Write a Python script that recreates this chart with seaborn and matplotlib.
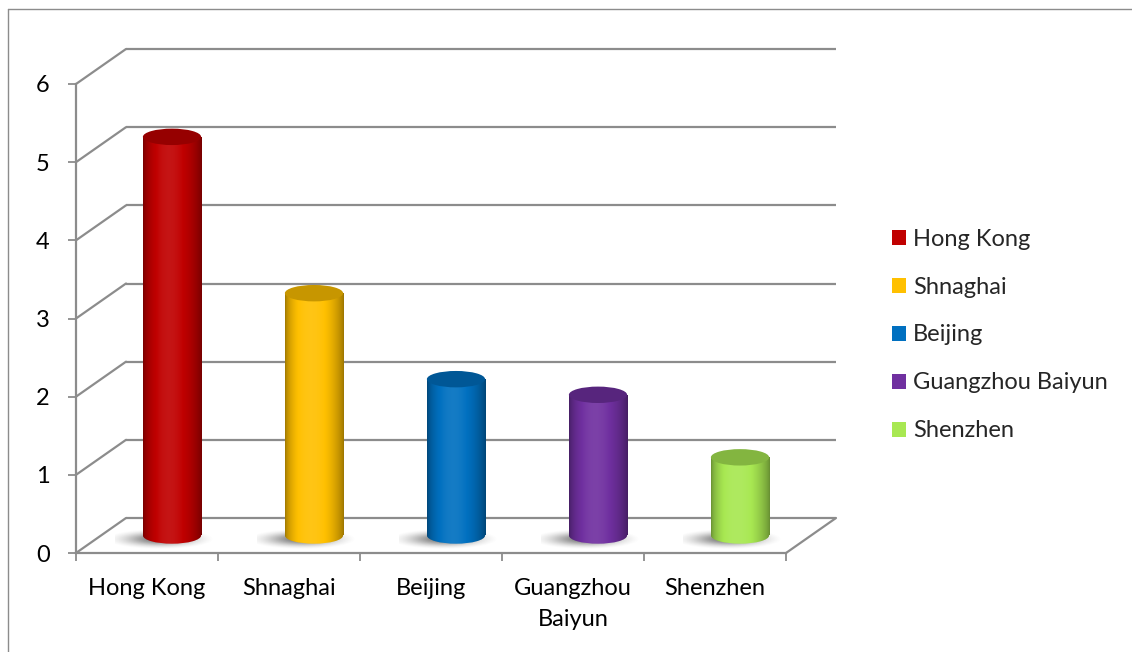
import numpy as np
import pandas as pd
import matplotlib
matplotlib.use("Agg")
import matplotlib.pyplot as plt
import matplotlib.transforms as mtransforms
from matplotlib.patches import Ellipse, Patch
from matplotlib.lines import Line2D
import seaborn as sns

# ---- data -------------------------------------------------------------
cities = ["Hong Kong", "Shnaghai", "Beijing", "Guangzhou Baiyun", "Shenzhen"]
tick_labels = ["Hong Kong", "Shnaghai", "Beijing", "Guangzhou\nBaiyun", "Shenzhen"]
values = [5.1, 3.1, 2.0, 1.8, 1.0]
colors = ["#C00000", "#FFC000", "#0070C0", "#7030A0", "#A8E852"]
y_ticks = [0, 1, 2, 3, 4, 5, 6]

# ---- style ------------------------------------------------------------
sns.set_theme(style="white")
plt.rcParams["font.family"] = ["Lato", "DejaVu Sans"]

DPI = 100
W, H = 1132, 652
GRID = "#8c8c8c"
FS = 17

fig = plt.figure(figsize=(W / DPI, H / DPI), dpi=DPI)
fig.patch.set_facecolor("white")
ax = fig.add_axes([76 / W, 99 / H, 710 / W, 469 / H])
ax.set_facecolor("none")

n = len(cities)

# depth of the pseudo-3D box (pixels right / up)
DX, DY = 50, 35
back = ax.transData + mtransforms.ScaledTranslation(DX / DPI, DY / DPI, fig.dpi_scale_trans)
mid = ax.transData + mtransforms.ScaledTranslation(DX / 2 / DPI, DY / 2 / DPI, fig.dpi_scale_trans)

# back wall gridlines and side-wall diagonals
for v in y_ticks:
    ax.plot([-0.5, n - 0.5], [v, v], color=GRID, lw=1.6, transform=back,
            clip_on=False, zorder=0.5, solid_capstyle="butt")
    ax.annotate("", xy=(-0.5, v), xytext=(DX, DY), textcoords="offset pixels",
                arrowprops=dict(arrowstyle="-", color=GRID, lw=1.6,
                                shrinkA=0, shrinkB=0),
                annotation_clip=False, zorder=0.5)
# right edge of the floor
ax.annotate("", xy=(n - 0.5, 0), xytext=(DX, DY), textcoords="offset pixels",
            arrowprops=dict(arrowstyle="-", color=GRID, lw=1.6, shrinkA=0, shrinkB=0),
            annotation_clip=False, zorder=0.5)

# ---- bars -------------------------------------------------------------
df = pd.DataFrame({"city": cities, "value": values})
sns.barplot(data=df, x="city", y="value", hue="city", palette=colors,
            saturation=1, width=0.41, legend=False, ax=ax, zorder=2)


def shade(rgb, f):
    rgb = np.asarray(rgb, dtype=float)
    if f <= 1:
        return rgb * f
    return rgb + (1 - rgb) * min(f - 1, 1)


t = np.linspace(0, 1, 256)
profile = 0.60 + 0.48 * np.sin(np.pi * t ** 0.85) ** 0.7

ELL_H = 0.21  # ellipse height in data units

# soft floor shadow
yy, xx = np.mgrid[-1:1:80j, -1:1:160j]
shadow_alpha = np.exp(-((xx + 0.1) ** 2) * 2.2 - (yy ** 2) * 3.0)
shadow_alpha = np.clip((shadow_alpha - 0.08) / 0.92, 0, 1) * 0.9
shadow = np.zeros((80, 160, 4))
shadow[..., :3] = 0.40
shadow[..., 3] = shadow_alpha

for patch, col in zip(ax.patches, colors):
    base = np.array(matplotlib.colors.to_rgb(col))
    x0, w, h = patch.get_x(), patch.get_width(), patch.get_height()
    xc = x0 + w / 2
    patch.set_transform(mid)
    patch.set_linewidth(0)

    ax.imshow(shadow, extent=(xc - 0.40, xc + 0.30, -0.18, 0.10), transform=mid,
              aspect="auto", interpolation="bilinear", zorder=1.5)

    grad = np.array([[shade(base, f) for f in profile]])
    body = ax.imshow(grad, extent=(x0, x0 + w, 0, h), transform=mid,
                     aspect="auto", interpolation="bilinear", zorder=2.5)
    body.set_clip_path(patch)

    bottom = Ellipse((xc, 0), w, ELL_H, transform=mid, facecolor="none",
                     edgecolor="none")
    ax.add_patch(bottom)
    low = ax.imshow(grad, extent=(x0, x0 + w, -ELL_H / 2, 0.01), transform=mid,
                    aspect="auto", interpolation="bilinear", zorder=2.4)
    low.set_clip_path(bottom)

    top = Ellipse((xc, h), w, ELL_H, angle=0, transform=mid,
                  facecolor=shade(base, 0.78), edgecolor="none", zorder=3)
    ax.add_patch(top)

# ---- axes -------------------------------------------------------------
ax.set_xlim(-0.5, n - 0.5)
ax.set_ylim(0, 6)
ax.set_xlabel("")
ax.set_ylabel("")
ax.set_xticks(range(n), labels=tick_labels)
ax.set_xticks(np.arange(n + 1) - 0.5, minor=True)
ax.set_yticks(y_ticks)
ax.tick_params(axis="x", which="major", bottom=False, length=0, pad=18,
               labelsize=FS, labelcolor="black")
ax.tick_params(axis="x", which="minor", bottom=True, length=6, width=1.3,
               color=GRID, direction="out")
ax.tick_params(axis="y", which="major", left=True, length=6, width=1.3,
               color=GRID, direction="out", pad=13, labelsize=FS, labelcolor="black")
for lbl in ax.get_xticklabels():
    lbl.set_linespacing(1.6)
for side in ("top", "right"):
    ax.spines[side].set_visible(False)
for side in ("left", "bottom"):
    ax.spines[side].set_color(GRID)
    ax.spines[side].set_linewidth(1.6)

# ---- legend -----------------------------------------------------------
handles = [Patch(facecolor=c, edgecolor="none", label=l) for c, l in zip(colors, cities)]
fig.legend(handles=handles, loc="center left",
           bbox_to_anchor=(892 / W, (H - 335) / H), frameon=False, fontsize=FS,
           handlelength=0.6, handleheight=0.6, handletextpad=0.3,
           labelspacing=1.14, borderpad=0, borderaxespad=0)

# ---- chart frame --------------------------------------------------------
fig.add_artist(Line2D([8 / W, 1], [1 - 9 / H, 1 - 9 / H], transform=fig.transFigure,
                      color=GRID, lw=1))
fig.add_artist(Line2D([8 / W, 8 / W], [0, 1 - 9 / H], transform=fig.transFigure,
                      color=GRID, lw=1))

fig.savefig("out.png", dpi=DPI)
